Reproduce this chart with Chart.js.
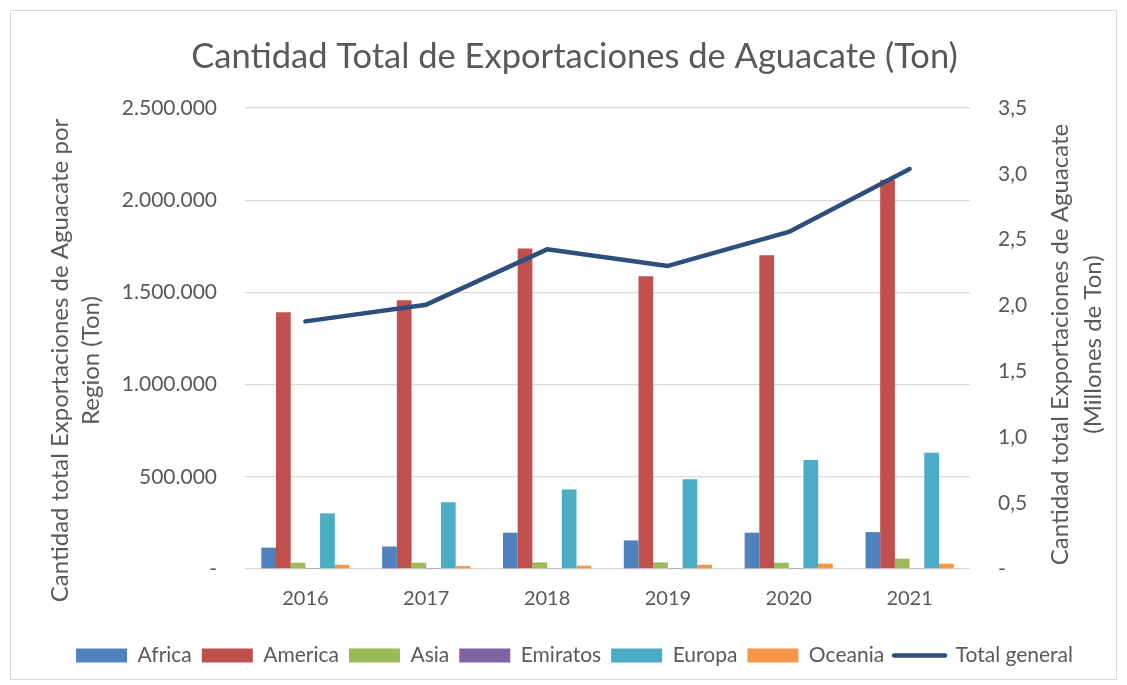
<!DOCTYPE html>
<html>
<head>
<meta charset="utf-8">
<style>
  html, body { margin: 0; padding: 0; background: #ffffff; }
  #wrap { width: 1127px; height: 685px; position: relative; }
</style>
<script src="https://cdn.jsdelivr.net/npm/chart.js@4.4.1/dist/chart.umd.min.js"></script>
</head>
<body>
<div id="wrap"><canvas id="c" width="1127" height="685"></canvas></div>
<script>
// ---- data ----
const categories = ['2016', '2017', '2018', '2019', '2020', '2021'];
const africa   = [116000, 122000, 197000, 155000, 197000, 200000];
const america  = [1392000, 1458000, 1738000, 1587000, 1701000, 2111000];
const asia     = [34000, 34000, 36000, 36000, 34000, 56000];
const emiratos = [1500, 1500, 2000, 1500, 1500, 2000];
const europa   = [302000, 362000, 431000, 487000, 591000, 631000];
const oceania  = [23000, 16000, 18000, 23000, 29000, 29000];
const totalGeneral = [1.880, 2.007, 2.427, 2.301, 2.559, 3.037]; // millones de ton
const seriesNames = ['Africa', 'America', 'Asia', 'Emiratos', 'Europa', 'Oceania', 'Total general'];
const chartTitle = 'Cantidad Total de Exportaciones de Aguacate (Ton)';
const leftTitle = ['Cantidad total Exportaciones de Aguacate por', 'Region (Ton)'];
const rightTitle = ['Cantidad total Exportaciones de Aguacate', '(Millones de Ton)'];

const FONT = 'Lato';
const TXT = '#595959';
const colors = ['#4F81BD', '#C0504D', '#9BBB59', '#8064A2', '#4BACC6', '#F79646'];
const lineColor = '#2C4F7C';

const barSeries = [africa, america, asia, emiratos, europa, oceania];
const datasets = barSeries.map((d, i) => ({
  type: 'bar',
  label: seriesNames[i],
  data: d,
  backgroundColor: colors[i],
  borderWidth: 0,
  yAxisID: 'y',
  categoryPercentage: 0.73,
  barPercentage: 1.0,
  order: 2
}));
datasets.push({
  type: 'line',
  label: seriesNames[6],
  data: totalGeneral,
  borderColor: lineColor,
  backgroundColor: lineColor,
  borderWidth: 4.5,
  borderCapStyle: 'round',
  borderJoinStyle: 'round',
  pointRadius: 0,
  pointHoverRadius: 0,
  tension: 0,
  yAxisID: 'y1',
  order: 0
});

const PAD_L = 22, PAD_R = 0, PAD_B = 9;

const framePlugin = {
  id: 'frame',
  beforeDraw(chart) {
    const ctx = chart.ctx;
    ctx.save();
    ctx.fillStyle = '#ffffff';
    ctx.fillRect(0, 0, chart.width, chart.height);
    ctx.strokeStyle = '#d9d9d9';
    ctx.lineWidth = 1;
    ctx.strokeRect(10.5, 10.5, chart.width - 21, chart.height - 16);
    ctx.restore();
  },
  afterDraw(chart) {
    const ctx = chart.ctx;
    const a = chart.chartArea;
    ctx.save();
    ctx.fillStyle = TXT;
    ctx.font = '24px ' + FONT;
    ctx.textAlign = 'center';
    ctx.textBaseline = 'middle';
    // left title
    const lcy = (a.top + a.bottom) / 2 + 22;
    [a.left - 185, a.left - 154].forEach((x, i) => {
      ctx.save();
      ctx.translate(x, lcy);
      ctx.rotate(-Math.PI / 2);
      ctx.fillText(leftTitle[i], 0, 0);
      ctx.restore();
    });
    // right title
    const rcy = (a.top + a.bottom) / 2 + 6;
    [a.right + 90, a.right + 123].forEach((x, i) => {
      ctx.save();
      ctx.translate(x, rcy);
      ctx.rotate(-Math.PI / 2);
      ctx.fillText(rightTitle[i], 0, 0);
      ctx.restore();
    });
    ctx.restore();
  }
};

function build() {
  new Chart(document.getElementById('c'), {
    data: { labels: categories, datasets },
    options: {
      responsive: false,
      animation: false,
      events: [],
      layout: { padding: { left: PAD_L, right: PAD_R, top: 0, bottom: PAD_B } },
      plugins: {
        title: {
          display: true,
          text: chartTitle,
          color: TXT,
          font: { family: FONT, size: 34.5, weight: 'normal', lineHeight: 1.2 },
          padding: { top: 35.7, bottom: 30.9 }
        },
        legend: {
          position: 'bottom',
          labels: {
            color: TXT,
            font: { family: FONT, size: 21 },
            usePointStyle: true,
            pointStyleWidth: 51,
            boxHeight: 14,
            padding: 10,
            generateLabels(chart) {
              const items = Chart.defaults.plugins.legend.labels.generateLabels(chart);
              items.forEach(it => {
                const ds = chart.data.datasets[it.datasetIndex];
                if (ds.type === 'line') {
                  it.pointStyle = 'line';
                  it.lineWidth = 4.5;
                  it.strokeStyle = ds.borderColor;
                  it.fillStyle = ds.borderColor;
                  it.lineCap = 'round';
                } else {
                  it.pointStyle = 'rect';
                  it.lineWidth = 0;
                  it.fillStyle = ds.backgroundColor;
                  it.strokeStyle = ds.backgroundColor;
                }
              });
              items.sort((p, q) => p.datasetIndex - q.datasetIndex);
              return items;
            }
          }
        },
        tooltip: { enabled: false }
      },
      scales: {
        x: {
          grid: { display: false, drawTicks: false },
          border: { display: false },
          ticks: { color: TXT, font: { family: FONT, size: 20 }, padding: 18 },
          afterFit(s) {
            const lh = s.chart.legend ? s.chart.legend.height : 0;
            s.height = s.chart.height - PAD_B - lh - 569;
          }
        },
        y: {
          position: 'left',
          min: 0, max: 2500000,
          grid: { color: '#d9d9d9', lineWidth: 1.3, drawTicks: false },
          border: { display: false },
          ticks: {
            stepSize: 500000,
            color: TXT,
            font: { family: FONT, size: 21 },
            padding: 28,
            callback: v => v === 0 ? '-' : v.toLocaleString('de-DE')
          },
          afterFit(s) { s.width = 245 - PAD_L; }
        },
        y1: {
          position: 'right',
          min: 0, max: 3.5,
          grid: { display: false, drawTicks: false },
          border: { display: false },
          ticks: {
            stepSize: 0.5,
            color: TXT,
            font: { family: FONT, size: 21 },
            padding: 28,
            callback: v => v === 0 ? '-' : v.toFixed(1).replace('.', ',')
          },
          afterFit(s) { s.width = 1127 - PAD_R - 970; }
        }
      }
    },
    plugins: [framePlugin]
  });
}

if (document.fonts && document.fonts.load) {
  Promise.all([document.fonts.load('21px Lato'), document.fonts.load('34px Lato')]).then(build, build);
} else { build(); }
</script>
</body>
</html>
